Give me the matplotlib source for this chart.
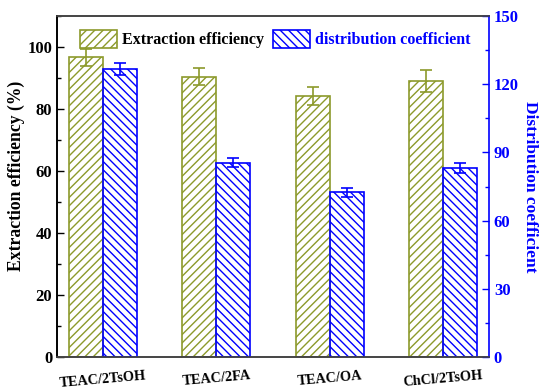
import numpy as np
import matplotlib
matplotlib.use('Agg')
import matplotlib.pyplot as plt
from matplotlib.ticker import MultipleLocator

plt.rcParams['font.family'] = ['Liberation Serif', 'DejaVu Serif']
plt.rcParams['font.weight'] = 'bold'
plt.rcParams['hatch.linewidth'] = 1.0

solvents = ['TEAC/2TsOH', 'TEAC/2FA', 'TEAC/OA', 'ChCl/2TsOH']
efficiency = [96.7, 90.4, 84.2, 89.0]
efficiency_err = [2.8, 2.7, 2.8, 3.5]
coefficient = [126.7, 85.5, 72.4, 83.3]
coefficient_err = [2.5, 2.0, 1.8, 2.2]

green = '#8C9A2B'
blue = '#0000FF'

fig = plt.figure(figsize=(5.39, 3.90), dpi=100)
ax = fig.add_axes([57/539, 1-357/390, (489-57)/539, (357-16)/390])
ax2 = ax.twinx()

x = np.arange(len(solvents))
w = 0.30

b1 = ax.bar(x - w/2, efficiency, w, yerr=efficiency_err, color='none',
            edgecolor=green, hatch='////', linewidth=1.2,
            error_kw=dict(ecolor=green, capsize=4, elinewidth=1.2, capthick=1.2),
            label='Extraction efficiency')
b2 = ax2.bar(x + w/2, coefficient, w, yerr=coefficient_err, color='none',
             edgecolor=blue, hatch='\\\\\\\\', linewidth=1.2,
             error_kw=dict(ecolor=blue, capsize=4, elinewidth=1.2, capthick=1.2),
             label='distribution coefficient')

ax.set_xlim(-0.406, 3.406)
ax.set_ylim(0, 110)
ax2.set_ylim(0, 150)

ax.yaxis.set_major_locator(MultipleLocator(20))
ax.yaxis.set_minor_locator(MultipleLocator(10))
ax2.yaxis.set_major_locator(MultipleLocator(30))
ax2.yaxis.set_minor_locator(MultipleLocator(15))

ax.tick_params(axis='y', which='both', direction='in', labelsize=12, width=1)
ax.tick_params(axis='y', which='major', length=5)
ax.tick_params(axis='y', which='minor', length=3)
ax2.tick_params(axis='y', which='both', direction='in', labelsize=12, colors=blue, width=1)
ax2.tick_params(axis='y', which='major', length=5)
ax2.tick_params(axis='y', which='minor', length=3)

ax.set_xticks(x)
ax.set_xticklabels(solvents, rotation=5, fontsize=10.3)
ax.tick_params(axis='x', length=0, pad=9)

ax.set_ylabel('Extraction efficiency (%)', fontsize=12.7, fontweight='bold')
ax.yaxis.set_label_coords(-0.075, 0.53)
ax2.set_ylabel('Distribution coefficient', fontsize=12.5, fontweight='bold',
               color=blue, rotation=270, labelpad=14)

for a in (ax, ax2):
    a.spines['top'].set_color('#444444')
    a.spines['bottom'].set_color('#444444')
    a.spines['left'].set_color('black')
    a.spines['right'].set_color(blue)
    for s in a.spines.values():
        s.set_linewidth(1.2)
ax.spines['right'].set_visible(False)

leg = ax.legend([b1, b2], ['Extraction efficiency', 'distribution coefficient'],
                ncol=2, loc='upper left', bbox_to_anchor=(0.02, 1.0), frameon=False,
                fontsize=11.5, handlelength=2.3, handleheight=1.3, columnspacing=0.6,
                handletextpad=0.3)
leg.get_texts()[1].set_color(blue)

fig.savefig('out.png', dpi=100)
